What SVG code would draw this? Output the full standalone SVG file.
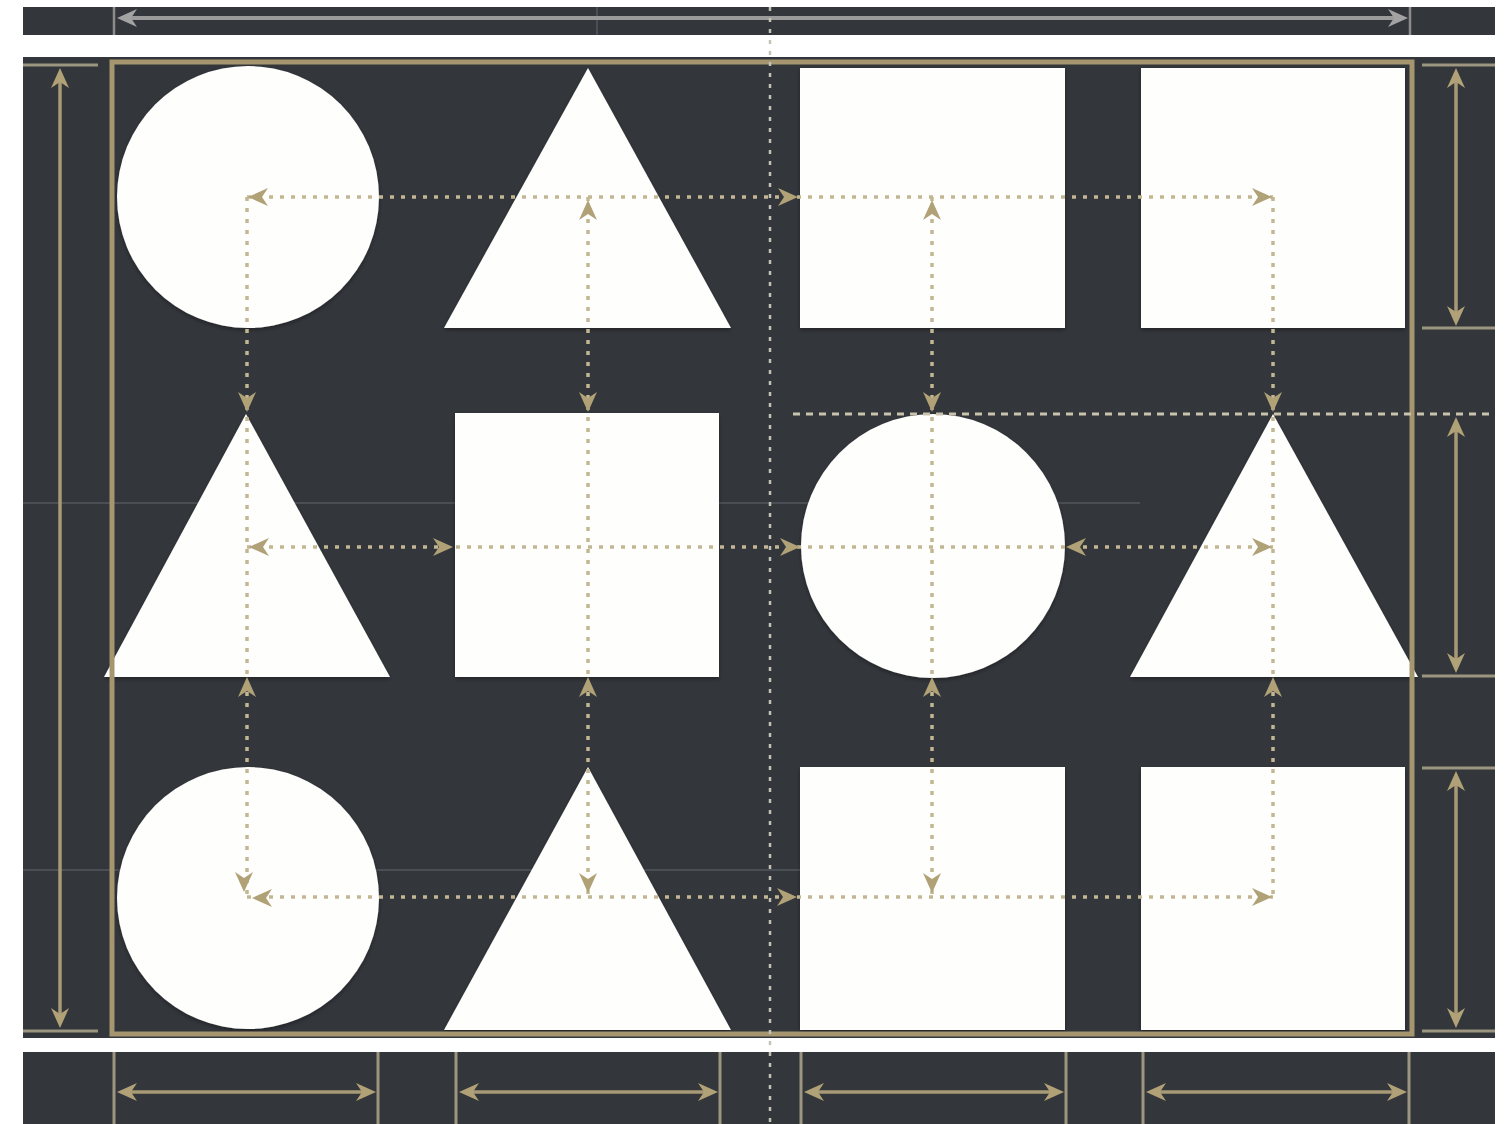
<svg xmlns="http://www.w3.org/2000/svg" xmlns:xlink="http://www.w3.org/1999/xlink" width="1510" height="1124" viewBox="0 0 1510 1124">
<defs>
<style>
.bg{fill:#33363b}
.shape{fill:#fefefc;filter:url(#sh)}
.frame{fill:none;stroke:#a69670;stroke-width:5}
.dim{stroke:#a89a76;stroke-width:3.5;fill:none}
.tick{stroke:#9c957f;stroke-width:3}
.gtick{stroke:#8c8c8c;stroke-width:2.5}
.gdim{stroke:#9a9a9a;stroke-width:4;fill:none}
.dot{stroke:#c2b792;stroke-width:3.5;stroke-dasharray:4 7;fill:none}
.div{stroke:#c4c1b6;stroke-width:2.5;stroke-dasharray:4 7;fill:none}
.hdash{stroke:#c9c3ae;stroke-width:3;stroke-dasharray:7 6;fill:none}
.faint{stroke:#4a4e55;stroke-width:2;fill:none}
.ah{fill:#b0a177}
.gah{fill:#a3a3a3}
</style>
<path id="ah" class="ah" d="M0,0 L-20,-9 L-14,0 L-20,9 Z"/>
<path id="gah" class="gah" d="M0,0 L-20,-9 L-14,0 L-20,9 Z"/>
<filter id="sh" x="-10%" y="-10%" width="120%" height="120%">
<feDropShadow dx="0" dy="2" stdDeviation="2" flood-color="#000" flood-opacity="0.35"/>
</filter>
</defs>
<rect width="1510" height="1124" fill="#ffffff"/>

<!-- top bar -->
<g id="top-bar">
<rect class="bg" x="23" y="7" width="1472" height="28"/>
<line class="faint" x1="597" y1="7" x2="597" y2="35"/>
<line class="gtick" x1="114" y1="7" x2="114" y2="35"/>
<line class="gtick" x1="1410" y1="7" x2="1410" y2="35"/>
<line class="gdim" x1="128" y1="18" x2="1398" y2="18"/>
<use xlink:href="#gah" transform="translate(117,18) rotate(180)"/>
<use xlink:href="#gah" transform="translate(1408,18)"/>
</g>

<!-- main panel -->
<g id="panel">
<rect class="bg" x="23" y="57" width="1472" height="981"/>
<line class="faint" x1="23" y1="503" x2="1140" y2="503"/>
<line class="faint" x1="23" y1="870" x2="800" y2="870"/>
</g>

<!-- bottom bar -->
<g id="bottom-bar">
<rect class="bg" x="23" y="1052" width="1472" height="72"/>
<g class="tick">
<line x1="114" y1="1052" x2="114" y2="1124"/>
<line x1="378" y1="1052" x2="378" y2="1124"/>
<line x1="456" y1="1052" x2="456" y2="1124"/>
<line x1="720" y1="1052" x2="720" y2="1124"/>
<line x1="801" y1="1052" x2="801" y2="1124"/>
<line x1="1066" y1="1052" x2="1066" y2="1124"/>
<line x1="1143" y1="1052" x2="1143" y2="1124"/>
<line x1="1409" y1="1052" x2="1409" y2="1124"/>
</g>
<line class="dim" x1="128" y1="1092" x2="365" y2="1092"/>
<use xlink:href="#ah" transform="translate(117,1092) rotate(180)"/>
<use xlink:href="#ah" transform="translate(376,1092)"/>
<line class="dim" x1="470" y1="1092" x2="707" y2="1092"/>
<use xlink:href="#ah" transform="translate(459,1092) rotate(180)"/>
<use xlink:href="#ah" transform="translate(718,1092)"/>
<line class="dim" x1="815" y1="1092" x2="1053" y2="1092"/>
<use xlink:href="#ah" transform="translate(804,1092) rotate(180)"/>
<use xlink:href="#ah" transform="translate(1064,1092)"/>
<line class="dim" x1="1157" y1="1092" x2="1396" y2="1092"/>
<use xlink:href="#ah" transform="translate(1146,1092) rotate(180)"/>
<use xlink:href="#ah" transform="translate(1407,1092)"/>
</g>

<!-- left dimension -->
<g id="left-dimension">
<line class="tick" x1="23" y1="65" x2="98" y2="65"/>
<line class="tick" x1="23" y1="1031" x2="98" y2="1031"/>
<line class="dim" x1="60" y1="80" x2="60" y2="1016"/>
<use xlink:href="#ah" transform="translate(60,68) rotate(-90)"/>
<use xlink:href="#ah" transform="translate(60,1028) rotate(90)"/>
</g>

<!-- right dimensions -->
<g id="right-dimension">
<g class="tick">
<line x1="1422" y1="65" x2="1495" y2="65"/>
<line x1="1422" y1="328" x2="1495" y2="328"/>
<line x1="1422" y1="676" x2="1495" y2="676"/>
<line x1="1422" y1="768" x2="1495" y2="768"/>
<line x1="1422" y1="1031" x2="1495" y2="1031"/>
</g>
<line class="dim" x1="1456" y1="80" x2="1456" y2="314"/>
<use xlink:href="#ah" transform="translate(1456,68) rotate(-90)"/>
<use xlink:href="#ah" transform="translate(1456,326) rotate(90)"/>
<line class="dim" x1="1456" y1="429" x2="1456" y2="661"/>
<use xlink:href="#ah" transform="translate(1456,417) rotate(-90)"/>
<use xlink:href="#ah" transform="translate(1456,673) rotate(90)"/>
<line class="dim" x1="1456" y1="783" x2="1456" y2="1016"/>
<use xlink:href="#ah" transform="translate(1456,771) rotate(-90)"/>
<use xlink:href="#ah" transform="translate(1456,1028) rotate(90)"/>
</g>

<!-- shapes: row 1 -->
<g id="r1-circle"><circle class="shape" cx="248" cy="197" r="131"/></g>
<g id="r1-triangle"><polygon class="shape" points="588,68 731,328 444,328"/></g>
<g id="r1-square-a"><rect class="shape" x="800" y="68" width="265" height="260"/></g>
<g id="r1-square-b"><rect class="shape" x="1141" y="68" width="264" height="260"/></g>
<!-- row 2 -->
<g id="r2-triangle-a"><polygon class="shape" points="246,414 390,677 104,677"/></g>
<g id="r2-square"><rect class="shape" x="455" y="413" width="264" height="264"/></g>
<g id="r2-circle"><circle class="shape" cx="933" cy="546" r="132"/></g>
<g id="r2-triangle-b"><polygon class="shape" points="1273,414 1418,677 1130,677"/></g>
<!-- row 3 -->
<g id="r3-circle"><circle class="shape" cx="248" cy="898" r="131"/></g>
<g id="r3-triangle"><polygon class="shape" points="588,767 731,1030 444,1030"/></g>
<g id="r3-square-a"><rect class="shape" x="800" y="767" width="265" height="263"/></g>
<g id="r3-square-b"><rect class="shape" x="1141" y="767" width="264" height="263"/></g>

<!-- frame -->
<g id="frame"><rect class="frame" x="112" y="62" width="1300" height="972"/></g>

<!-- connectors -->
<g id="connectors">
<line class="div" x1="770" y1="7" x2="770" y2="1124"/>
<line class="hdash" x1="793" y1="414" x2="1495" y2="414"/>

<line class="dot" x1="247" y1="197" x2="1273" y2="197"/>
<line class="dot" x1="247" y1="547" x2="1273" y2="547"/>
<line class="dot" x1="247" y1="897" x2="1273" y2="897"/>
<line class="dot" x1="247" y1="197" x2="247" y2="897"/>
<line class="dot" x1="588" y1="197" x2="588" y2="897"/>
<line class="dot" x1="932" y1="197" x2="932" y2="897"/>
<line class="dot" x1="1273" y1="197" x2="1273" y2="897"/>

<!-- row 1 arrows -->
<use xlink:href="#ah" transform="translate(248,197) rotate(180)"/>
<use xlink:href="#ah" transform="translate(798,197)"/>
<use xlink:href="#ah" transform="translate(1272,197)"/>
<!-- row 2 arrows -->
<use xlink:href="#ah" transform="translate(249,547) rotate(180)"/>
<use xlink:href="#ah" transform="translate(453,547)"/>
<use xlink:href="#ah" transform="translate(800,547)"/>
<use xlink:href="#ah" transform="translate(1066,547) rotate(180)"/>
<use xlink:href="#ah" transform="translate(1272,547)"/>
<!-- row 3 arrows -->
<use xlink:href="#ah" transform="translate(252,898) rotate(180)"/>
<use xlink:href="#ah" transform="translate(797,897)"/>
<use xlink:href="#ah" transform="translate(1272,897)"/>
<!-- column arrows -->
<use xlink:href="#ah" transform="translate(247,412) rotate(90)"/>
<use xlink:href="#ah" transform="translate(247,677) rotate(-90)"/>
<use xlink:href="#ah" transform="translate(244,892) rotate(90)"/>

<use xlink:href="#ah" transform="translate(588,200) rotate(-90)"/>
<use xlink:href="#ah" transform="translate(588,412) rotate(90)"/>
<use xlink:href="#ah" transform="translate(588,677) rotate(-90)"/>
<use xlink:href="#ah" transform="translate(588,893) rotate(90)"/>

<use xlink:href="#ah" transform="translate(932,200) rotate(-90)"/>
<use xlink:href="#ah" transform="translate(932,412) rotate(90)"/>
<use xlink:href="#ah" transform="translate(932,677) rotate(-90)"/>
<use xlink:href="#ah" transform="translate(932,893) rotate(90)"/>

<use xlink:href="#ah" transform="translate(1273,412) rotate(90)"/>
<use xlink:href="#ah" transform="translate(1273,677) rotate(-90)"/>
</g>
</svg>
